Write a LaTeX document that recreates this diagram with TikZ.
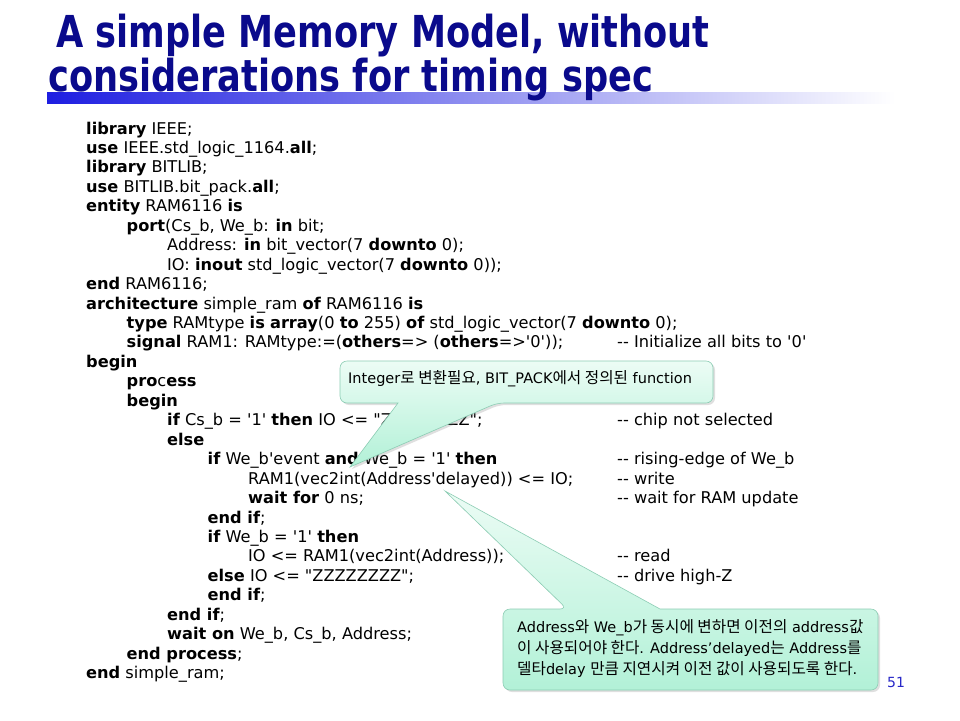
\documentclass[tikz,border=0pt]{standalone}
\usepackage{fontspec}
\setmainfont{DejaVu Sans}[Ligatures=TeXOff]
\newfontfamily\titlefont[FakeStretch=0.8,Ligatures=TeXOff]{DejaVu Sans}
\newfontfamily\kofont[Scale=1.08]{Noto Sans CJK KR}
\usetikzlibrary{shadows}

\definecolor{titleblue}{RGB}{10,10,140}
\definecolor{barblue}{RGB}{30,30,225}
\definecolor{mintlight}{RGB}{236,252,245}
\definecolor{mintdark}{RGB}{178,241,215}
\definecolor{mintline}{RGB}{140,205,180}
\definecolor{pageblue}{RGB}{40,40,200}

\newcommand{\kw}[1]{\textbf{#1}}
\newcommand{\ko}[1]{{\kofont #1}}

\begin{document}
\begin{tikzpicture}[x=1pt, y=-1pt,
    titletext/.style={anchor=base west, inner sep=0pt, text=titleblue,
        font=\titlefont\bfseries\fontsize{44}{50}\selectfont},
    code/.style={anchor=base west, inner sep=0pt, font=\fontsize{16.2}{19}\selectfont},
    callout/.style={draw=mintline, line width=0.6pt, top color=mintlight, bottom color=mintdark,
        drop shadow={opacity=0.25, shadow xshift=2pt, shadow yshift=-2pt}},
    notetext/.style={anchor=base west, inner sep=0pt, font=\fontsize{14.5}{17}\selectfont}]

    \useasboundingbox (0,0) rectangle (960,720);
    \fill[white] (0,0) rectangle (960,720);

    % Titel
    \shade[left color=barblue, right color=white] (47,92) rectangle (895,103);
    \node[titletext] (titlea) at (56,47) {A simple Memory Model, without};
    \node[titletext] (titleb) at (48,91) {considerations for timing spec};

    % Quelltext
    \def\xl{86}          % linker Rand
    \def\ind{40.5}       % Einrueckung
    \def\yl{134}         % erste Grundlinie
    \def\dy{19.45}       % Zeilenabstand
    \def\xc{617}         % Spalte der Kommentare

    \node[code] (l1)  at ({\xl},{\yl})             {\kw{library} IEEE;};
    \node[code] (l2)  at ({\xl},{\yl+1*\dy})        {\kw{use} IEEE.std\_logic\_1164.\kw{all};};
    \node[code] (l3)  at ({\xl},{\yl+2*\dy})        {\kw{library} BITLIB;};
    \node[code] (l4)  at ({\xl},{\yl+3*\dy})        {\kw{use} BITLIB.bit\_pack.\kw{all};};
    \node[code] (l5)  at ({\xl},{\yl+4*\dy})        {\kw{entity} RAM6116 \kw{is}};
    \node[code] (l6)  at ({\xl+\ind},{\yl+5*\dy})   {\kw{port}(Cs\_b, We\_b: \kw{in} bit;};
    \node[code] (l7)  at ({\xl+2*\ind},{\yl+6*\dy}) {Address: \kw{in} bit\_vector(7 \kw{downto} 0);};
    \node[code] (l8)  at ({\xl+2*\ind},{\yl+7*\dy}) {IO: \kw{inout} std\_logic\_vector(7 \kw{downto} 0));};
    \node[code] (l9)  at ({\xl},{\yl+8*\dy})        {\kw{end} RAM6116;};
    \node[code] (l10) at ({\xl},{\yl+9*\dy})        {\kw{architecture} simple\_ram \kw{of} RAM6116 \kw{is}};
    \node[code] (l11) at ({\xl+\ind},{\yl+10*\dy})  {\kw{type} RAMtype \kw{is} \kw{array}(0 \kw{to} 255) \kw{of} std\_logic\_vector(7 \kw{downto} 0);};
    \node[code] (l12) at ({\xl+\ind},{\yl+11*\dy})  {\kw{signal} RAM1: RAMtype:=(\kw{others}=> (\kw{others}=>'0'));};
    \node[code] (l13) at ({\xl},{\yl+12*\dy})       {\kw{begin}};
    \node[code] (l14) at ({\xl+\ind},{\yl+13*\dy})  {\kw{pro}c\kw{ess}};
    \node[code] (l15) at ({\xl+\ind},{\yl+14*\dy})  {\kw{begin}};
    \node[code] (l16) at ({\xl+2*\ind},{\yl+15*\dy}) {\kw{if} Cs\_b = '1' \kw{then} IO <= "ZZZZZZZZ";};
    \node[code] (l17) at ({\xl+2*\ind},{\yl+16*\dy}) {\kw{else}};
    \node[code] (l18) at ({\xl+3*\ind},{\yl+17*\dy}) {\kw{if} We\_b'event \kw{and} We\_b = '1' \kw{then}};
    \node[code] (l19) at ({\xl+4*\ind},{\yl+18*\dy}) {RAM1(vec2int(Address'delayed)) <= IO;};
    \node[code] (l20) at ({\xl+4*\ind},{\yl+19*\dy}) {\kw{wait for} 0 ns;};
    \node[code] (l21) at ({\xl+3*\ind},{\yl+20*\dy}) {\kw{end if};};
    \node[code] (l22) at ({\xl+3*\ind},{\yl+21*\dy}) {\kw{if} We\_b = '1' \kw{then}};
    \node[code] (l23) at ({\xl+4*\ind},{\yl+22*\dy}) {IO <= RAM1(vec2int(Address));};
    \node[code] (l24) at ({\xl+3*\ind},{\yl+23*\dy}) {\kw{else} IO <= "ZZZZZZZZ";};
    \node[code] (l25) at ({\xl+3*\ind},{\yl+24*\dy}) {\kw{end if};};
    \node[code] (l26) at ({\xl+2*\ind},{\yl+25*\dy}) {\kw{end if};};
    \node[code] (l27) at ({\xl+2*\ind},{\yl+26*\dy}) {\kw{wait on} We\_b, Cs\_b, Address;};
    \node[code] (l28) at ({\xl+\ind},{\yl+27*\dy})  {\kw{end process};};
    \node[code] (l29) at ({\xl},{\yl+28*\dy})       {\kw{end} simple\_ram;};

    % Kommentare
    \node[code] (c12) at ({\xc},{\yl+11*\dy}) {-- Initialize all bits to '0'};
    \node[code] (c16) at ({\xc},{\yl+15*\dy}) {-- chip not selected};
    \node[code] (c18) at ({\xc},{\yl+17*\dy}) {-- rising-edge of We\_b};
    \node[code] (c19) at ({\xc},{\yl+18*\dy}) {-- write};
    \node[code] (c20) at ({\xc},{\yl+19*\dy}) {-- wait for RAM update};
    \node[code] (c23) at ({\xc},{\yl+22*\dy}) {-- read};
    \node[code] (c24) at ({\xc},{\yl+23*\dy}) {-- drive high-Z};

    % Sprechblase oben
    \coordinate (tipa) at (350,467);
    \draw[callout] (398,403) [rounded corners=7pt] -- (340,403) -- (340,361) -- (713,361)
        -- (713,403) -- (497,403) [sharp corners] -- (tipa) -- cycle;
    \node[notetext] (notea) at (348,383) {Integer\ko{로 변환필요}, BIT\_PACK\ko{에서 정의된} function};

    % Sprechblase unten
    \coordinate (tipb) at (445,491);
    \draw[callout] (660,609) [rounded corners=7pt] -- (878,609) -- (878,690) -- (503,690)
        -- (503,609) -- (567,609) [sharp corners] -- (tipb) -- cycle;
    \node[notetext] (noteb1) at (517,632) {Address\ko{와} We\_b\ko{가 동시에 변하면 이전의} address\ko{값}};
    \node[notetext] (noteb2) at (517,653) {\ko{이 사용되어야 한다}. Address’delayed\ko{는} Address\ko{를}};
    \node[notetext] (noteb3) at (517,674) {\ko{델타}delay \ko{만큼 지연시켜 이전 값이 사용되도록 한다}.};

    % Seitenzahl
    \node[anchor=base west, inner sep=0pt, text=pageblue, font=\fontsize{14}{16}\selectfont] (page) at (887,687) {51};
\end{tikzpicture}
\end{document}
